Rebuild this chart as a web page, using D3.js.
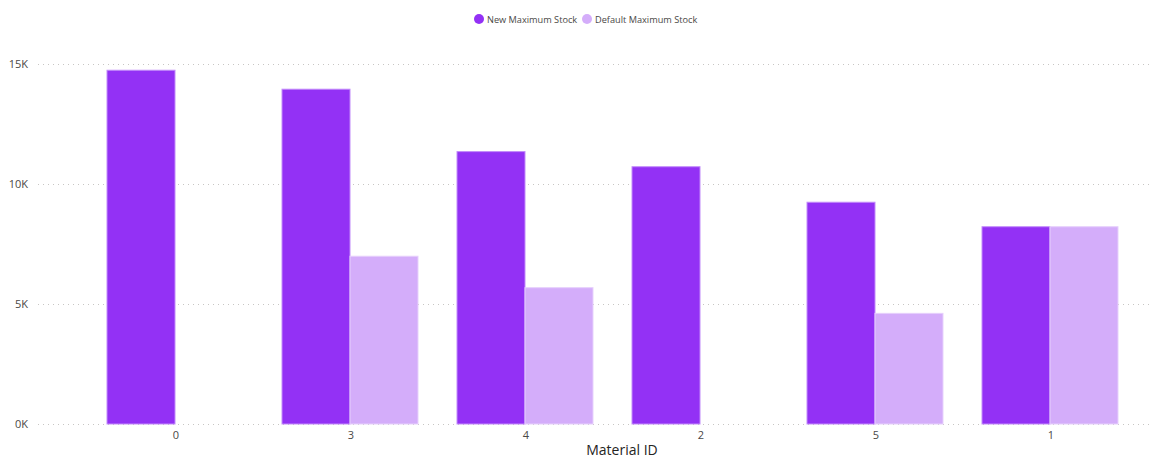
<!DOCTYPE html>
<html>
<head>
<meta charset="utf-8">
<script src="https://cdn.jsdelivr.net/npm/d3@7"></script>
<style>
  html, body { margin: 0; padding: 0; background: #fff; }
  svg { display: block; font-family: "Segoe UI", "Open Sans", "Noto Sans", sans-serif; }
</style>
</head>
<body>
<svg id="chart" width="1153" height="459"></svg>
<script>
const categories = ["0", "3", "4", "2", "5", "1"];
const newMaxStock = [14740, 13950, 11350, 10720, 9240, 8220];
const defaultMaxStock = [null, 6990, 5680, null, 4610, 8220];
const seriesNames = ["New Maximum Stock", "Default Maximum Stock"];
const yTicks = [0, 5000, 10000, 15000];
const yTickLabels = ["0K", "5K", "10K", "15K"];
const colors = ["#9331F5", "#D4ADFA"];
const strokes = ["#C28BFA", "#E6CFFC"];

const svg = d3.select("#chart");

const x = d3.scaleBand().domain(categories).range([87.5, 1137.5]).paddingInner(0.223).paddingOuter(0.1115);
const xSub = d3.scaleBand().domain([0, 1]).range([0, x.bandwidth()]);
const y = d3.scaleLinear().domain([0, 15000]).range([424, 64]);

// gridlines
svg.append("g").selectAll("line").data(yTicks).join("line")
  .attr("x1", 38).attr("x2", 1150)
  .attr("y1", d => y(d) + 0.5).attr("y2", d => y(d) + 0.5)
  .attr("stroke", "#C8C6C4").attr("stroke-width", 1).attr("stroke-dasharray", "1,4");

// y axis labels
const yAxis = d3.axisLeft(y).tickValues(yTicks).tickFormat((d, i) => yTickLabels[i]).tickSize(0).tickPadding(0);
const yg = svg.append("g").attr("transform", "translate(28,0)").call(yAxis);
yg.select(".domain").remove();
yg.selectAll("text").attr("fill", "#4A4846").attr("font-size", 11).attr("font-family", "\"Segoe UI\", \"Open Sans\", sans-serif");

// bars
const seriesData = [newMaxStock, defaultMaxStock];
seriesData.forEach((vals, s) => {
  svg.append("g").selectAll("rect")
    .data(categories.map((c, i) => ({ c, v: vals[i] })).filter(d => d.v != null))
    .join("rect")
    .attr("x", d => x(d.c) + xSub(s))
    .attr("width", xSub.bandwidth())
    .attr("y", d => y(d.v))
    .attr("height", d => y(0) - y(d.v))
    .attr("fill", colors[s])
    .attr("stroke", strokes[s])
    .attr("stroke-width", 1);
});

// x axis
const xAxis = d3.axisBottom(x).tickSize(0).tickPadding(0);
const xg = svg.append("g").attr("transform", "translate(1,431)").call(xAxis);
xg.select(".domain").remove();
xg.selectAll("text").attr("fill", "#4A4846").attr("font-size", 11).attr("dy", "0.71em").attr("font-family", "\"Segoe UI\", \"Open Sans\", sans-serif");

// x title
svg.append("text").attr("x", 622).attr("y", 455)
  .attr("text-anchor", "middle").attr("font-size", 14).attr("fill", "#252423")
  .text("Material ID");

// legend
const legend = svg.append("g");
const legendX = [479, 587];
seriesNames.forEach((name, i) => {
  legend.append("circle").attr("cx", legendX[i]).attr("cy", 19).attr("r", 5).attr("fill", colors[i]);
  legend.append("text").attr("x", legendX[i] + 8).attr("y", 22.5)
    .attr("font-size", 9.2).attr("fill", "#4A4846").text(name);
});
</script>
</body>
</html>
